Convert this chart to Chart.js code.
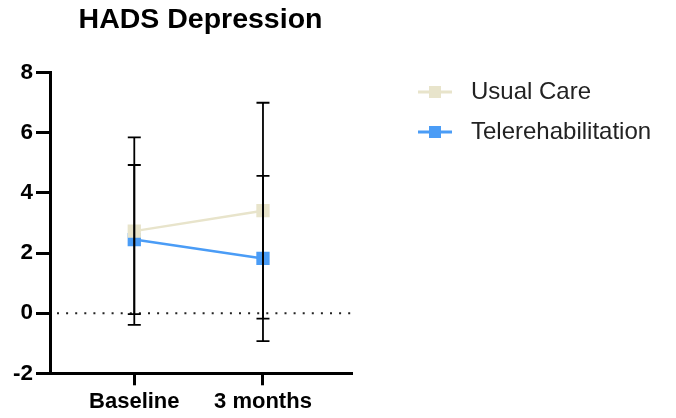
<!DOCTYPE html>
<html>
<head>
<meta charset="utf-8">
<script src="https://cdn.jsdelivr.net/npm/chart.js@4.4.1/dist/chart.umd.min.js"></script>
<style>
  html, body { margin: 0; padding: 0; background: #fff; }
  #wrap { width: 676px; height: 418px; }
</style>
</head>
<body>
<div id="wrap"><canvas id="c" width="676" height="418"></canvas></div>
<script>
// HADS depression score: mean ± SD at each time point
const timepoints = ['Baseline', '3 months'];
const usualCareMean = [2.73, 3.41];
const usualCareSD = [3.12, 3.59];
const teleMean = [2.45, 1.82];
const teleSD = [2.48, 2.75];
const yTickValues = [-2, 0, 2, 4, 6, 8];
const seriesNames = ['Usual Care', 'Telerehabilitation'];

const FONT = 'Arial, "Liberation Sans", Helvetica, sans-serif';
const BEIGE = '#E8E4CB';
const BLUE = '#4A9CF6';

const toPoints = (means) => means.map((m, i) => ({ x: i, y: m }));

// vertical whiskers with caps, drawn over the markers
const errorBars = {
  id: 'errorBars',
  afterDatasetsDraw(chart) {
    const { ctx, scales: { x, y } } = chart;
    ctx.save();
    ctx.strokeStyle = '#000';
    ctx.lineWidth = 1.8;
    chart.data.datasets.forEach((ds) => {
      ds.data.forEach((pt, i) => {
        const sd = ds.sd[i];
        const px = x.getPixelForValue(pt.x);
        const top = y.getPixelForValue(pt.y + sd);
        const bot = y.getPixelForValue(pt.y - sd);
        ctx.beginPath();
        ctx.moveTo(px, top); ctx.lineTo(px, bot);
        ctx.moveTo(px - 6.5, top); ctx.lineTo(px + 6.5, top);
        ctx.moveTo(px - 6.5, bot); ctx.lineTo(px + 6.5, bot);
        ctx.stroke();
      });
    });
    ctx.restore();
  }
};

// dotted reference line at zero
const zeroLine = {
  id: 'zeroLine',
  beforeDatasetsDraw(chart) {
    const { ctx, chartArea, scales: { y } } = chart;
    const py = y.getPixelForValue(0);
    ctx.save();
    ctx.strokeStyle = '#222';
    ctx.lineWidth = 2;
    ctx.setLineDash([2, 7.1]);
    ctx.beginPath();
    ctx.moveTo(chartArea.left + 7, py);
    ctx.lineTo(chartArea.right, py);
    ctx.stroke();
    ctx.restore();
  }
};

// legend to the right: short line with a square marker, then the name
const sideLegend = {
  id: 'sideLegend',
  afterDraw(chart) {
    const { ctx } = chart;
    const x0 = 418, x1 = 452, tx = 471, y0 = 92, gap = 40;
    ctx.save();
    chart.data.datasets.forEach((ds, i) => {
      const yy = y0 + i * gap;
      ctx.strokeStyle = ds.borderColor;
      ctx.lineWidth = 3;
      ctx.beginPath();
      ctx.moveTo(x0, yy); ctx.lineTo(x1, yy);
      ctx.stroke();
      ctx.fillStyle = ds.pointBackgroundColor;
      ctx.fillRect((x0 + x1) / 2 - 6, yy - 6, 12, 12);
      ctx.fillStyle = '#222';
      ctx.font = '24px ' + FONT;
      ctx.textBaseline = 'middle';
      ctx.textAlign = 'left';
      ctx.fillText(ds.label, tx, yy);
    });
    ctx.restore();
  }
};

new Chart(document.getElementById('c'), {
  type: 'line',
  data: {
    datasets: [
      {
        label: seriesNames[0],
        data: toPoints(usualCareMean),
        sd: usualCareSD,
        borderColor: BEIGE,
        backgroundColor: BEIGE,
        pointBackgroundColor: BEIGE,
        borderWidth: 2.5,
        pointStyle: 'rect',
        pointRadius: 9.4,
        pointBorderWidth: 0,
        pointHoverRadius: 9.4
      },
      {
        label: seriesNames[1],
        data: toPoints(teleMean),
        sd: teleSD,
        borderColor: BLUE,
        backgroundColor: BLUE,
        pointBackgroundColor: BLUE,
        borderWidth: 2.5,
        pointStyle: 'rect',
        pointRadius: 9.4,
        pointBorderWidth: 0,
        pointHoverRadius: 9.4
      }
    ]
  },
  options: {
    responsive: false,
    devicePixelRatio: 1,
    animation: false,
    layout: { padding: { left: 0, right: 325, top: 0, bottom: 0 } },
    plugins: {
      legend: { display: false },
      tooltip: { enabled: false },
      title: {
        display: true,
        text: 'HADS Depression',
        fullSize: false,
        color: '#000',
        font: { family: FONT, size: 28.5, weight: 'bold' },
        padding: { top: 2.6, bottom: 35.9 }
      }
    },
    scales: {
      x: {
        type: 'linear',
        min: -0.655,
        max: 1.684,
        afterBuildTicks: (s) => { s.ticks = timepoints.map((_, i) => ({ value: i })); },
        afterFit: (s) => { s.height = 44.7; },
        ticks: {
          callback: (v) => timepoints[v],
          color: '#000',
          font: { family: FONT, size: 22, weight: 'bold' },
          padding: 3,
          maxRotation: 0,
          autoSkip: false
        },
        grid: { display: true, drawOnChartArea: false, drawTicks: true, tickLength: 12, lineWidth: 3, color: '#000' },
        border: { display: true, width: 3, color: '#000' }
      },
      y: {
        min: -2,
        max: 8,
        afterBuildTicks: (s) => { s.ticks = yTickValues.map((v) => ({ value: v })); },
        afterFit: (s) => { s.width = 50; },
        ticks: {
          color: '#000',
          font: { family: FONT, size: 22.5, weight: 'bold' },
          padding: 3
        },
        grid: { display: true, drawOnChartArea: false, drawTicks: true, tickLength: 14, lineWidth: 3, color: '#000' },
        border: { display: true, width: 3, color: '#000' }
      }
    }
  },
  plugins: [zeroLine, errorBars, sideLegend]
});
</script>
</body>
</html>
